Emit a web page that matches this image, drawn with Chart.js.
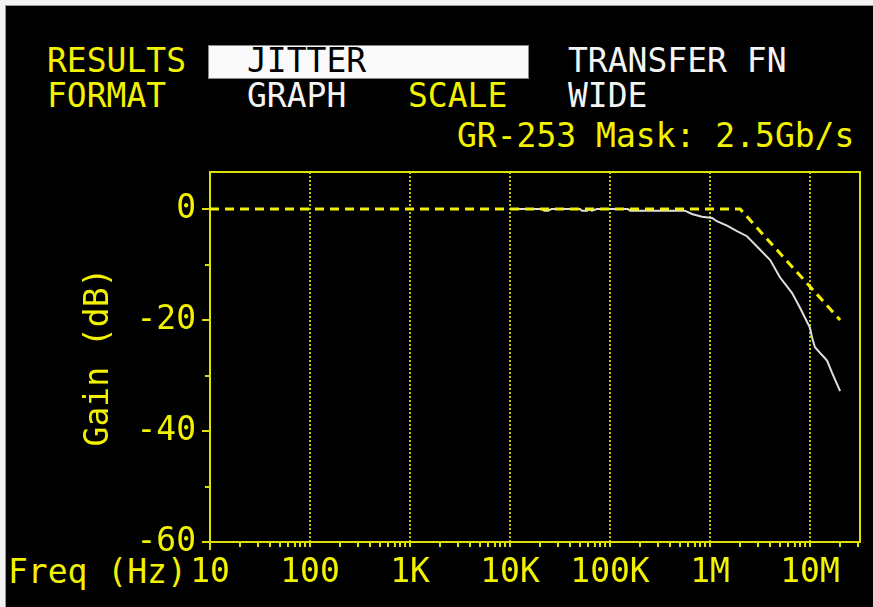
<!DOCTYPE html>
<html>
<head>
<meta charset="utf-8">
<script src="https://cdn.jsdelivr.net/npm/chart.js@4.4.1/dist/chart.umd.min.js"></script>
<style>
html, body { margin: 0; padding: 0; }
body { width: 873px; height: 607px; background: #f2f2f2; position: relative; overflow: hidden; font-family: "DejaVu Sans Mono", monospace; }
#panel { position: absolute; left: 5px; top: 5px; right: 0; bottom: 0; background: #000; border-left: 1px solid #9a9a9a; border-top: 1px solid #9a9a9a; }
.t { position: absolute; font-size: 33px; line-height: 33px; white-space: pre; }
.y { color: #f2f200; }
.w { color: #f4f4f4; }
.k { color: #000; }
#box { position: absolute; left: 208px; top: 45px; width: 319px; height: 32px; background: #fafafa; border: 1px solid #888; }
canvas { position: absolute; left: 0; top: 0; }
</style>
</head>
<body>
<div id="panel"></div>
<div id="box"></div>
<div class="t y" style="left:47px;top:44px">RESULTS</div>
<div class="t k" style="left:247px;top:44px">JITTER</div>
<div class="t w" style="left:568px;top:44px">TRANSFER FN</div>
<div class="t y" style="left:47px;top:79px">FORMAT</div>
<div class="t w" style="left:247px;top:79px">GRAPH</div>
<div class="t y" style="left:408px;top:79px">SCALE</div>
<div class="t w" style="left:568px;top:79px">WIDE</div>
<div class="t y" style="left:457px;top:119px">GR-253 Mask: 2.5Gb/s</div>
<div class="t y" style="left:8px;top:555px">Freq (Hz)</div>
<canvas id="chart" width="873" height="607"></canvas>
<script>
// GR-253 jitter transfer mask (2.5Gb/s)
const maskFreq = [10, 2e6, 2e7];
const maskGain = [0, 0, -20];

// measured jitter transfer
const measFreq = [1e4, 2.1e4, 2.2e4, 2.4e4, 2.6e4, 5.0e4, 5.25e4, 5.9e4, 6.03e4, 6.6e4, 7.4e4,
    1.5e5, 1.6e5, 5.6e5, 6.6e5, 8.3e5, 1.05e6, 1.17e6, 1.48e6, 1.86e6, 2.34e6, 3.0e6,
    4.0e6, 5.0e6, 6.6e6, 7.9e6, 1.0e7, 1.05e7, 1.12e7, 1.48e7, 1.66e7, 2.0e7];
const measGain = [0, 0, -0.3, -0.3, 0, 0, -0.3, -0.3, 0, -0.3, 0,
    0, -0.3, -0.3, -0.9, -1.4, -1.6, -2.2, -3.0, -4.0, -4.9, -6.9,
    -9.2, -12.3, -15.1, -17.7, -21.4, -23.2, -24.9, -27.3, -29.5, -32.8];

const xTickValues = [10, 100, 1e3, 1e4, 1e5, 1e6, 1e7];
const xTickLabels = ['10', '100', '1K', '10K', '100K', '1M', '10M'];
const yTickValues = [0, -20, -40, -60];
const yMinorValues = [-10, -30, -50];

const yellow = '#f2f200';
const frameColor = '#e0e000';
const gridColor = '#c4c400';
const font = { family: '"DejaVu Sans Mono", monospace', size: 33 };

const framePlugin = {
    id: 'frame',
    beforeDatasetsDraw(chart) {
        const { ctx, chartArea: a, scales: { x, y } } = chart;
        const line = (x1, y1, x2, y2) => {
            ctx.beginPath();
            ctx.moveTo(x1, y1);
            ctx.lineTo(x2, y2);
            ctx.stroke();
        };
        ctx.save();
        // dotted decade grid
        ctx.strokeStyle = gridColor;
        ctx.lineWidth = 2;
        ctx.setLineDash([2, 2]);
        xTickValues.slice(1).forEach(v => {
            const px = Math.round(x.getPixelForValue(v));
            line(px, a.top, px, a.bottom);
        });
        ctx.setLineDash([]);
        // frame
        ctx.strokeStyle = frameColor;
        ctx.strokeRect(a.left, a.top, a.right - a.left, a.bottom - a.top);
        line(a.left, a.bottom, a.left, a.bottom + 8);
        // y ticks
        yTickValues.forEach(v => {
            const py = Math.round(y.getPixelForValue(v));
            line(a.left - 8, py, a.left, py);
        });
        yMinorValues.forEach(v => {
            const py = Math.round(y.getPixelForValue(v));
            line(a.left - 5, py, a.left, py);
        });
        // x ticks, 1..9 per decade
        xTickValues.forEach(d => {
            for (let m = 1; m <= 9; m++) {
                const v = m * d;
                if (v > x.max) break;
                const px = Math.round(x.getPixelForValue(v));
                line(px, a.bottom, px, a.bottom + 5);
            }
        });
        ctx.restore();
    }
};

new Chart(document.getElementById('chart'), {
    type: 'line',
    data: {
        datasets: [
            {
                label: 'Mask',
                data: maskFreq.map((f, i) => ({ x: f, y: maskGain[i] })),
                borderColor: yellow,
                borderWidth: 3,
                borderDash: [9, 6],
                pointRadius: 0,
                tension: 0,
            },
            {
                label: 'Transfer',
                data: measFreq.map((f, i) => ({ x: f, y: measGain[i] })),
                borderColor: '#dedede',
                borderWidth: 2,
                pointRadius: 0,
                tension: 0,
            }
        ]
    },
    options: {
        responsive: false,
        animation: false,
        layout: { padding: { top: 172, right: 13, left: 0, bottom: 0 } },
        plugins: {
            legend: { display: false },
            tooltip: { enabled: false },
        },
        scales: {
            x: {
                type: 'logarithmic',
                min: 10,
                max: Math.pow(10, 7.5),
                grid: { display: false, drawTicks: false },
                border: { display: false },
                afterBuildTicks: s => { s.ticks = xTickValues.map(v => ({ value: v })); },
                afterFit: s => { s.height = 65; },
                ticks: {
                    color: yellow,
                    font: font,
                    padding: 12,
                    maxRotation: 0,
                    autoSkip: false,
                    callback: v => xTickLabels[xTickValues.indexOf(v)],
                },
            },
            y: {
                min: -60,
                max: 6.67,
                grid: { display: false, drawTicks: false },
                border: { display: false },
                afterBuildTicks: s => { s.ticks = yTickValues.map(v => ({ value: v })); },
                afterFit: s => { s.width = 210; },
                ticks: {
                    color: yellow,
                    font: font,
                    padding: 14,
                    callback: v => String(v),
                },
                title: {
                    display: true,
                    text: 'Gain (dB)',
                    color: yellow,
                    font: font,
                    padding: { top: 80 },
                },
            },
        },
    },
    plugins: [framePlugin],
});
</script>
</body>
</html>
